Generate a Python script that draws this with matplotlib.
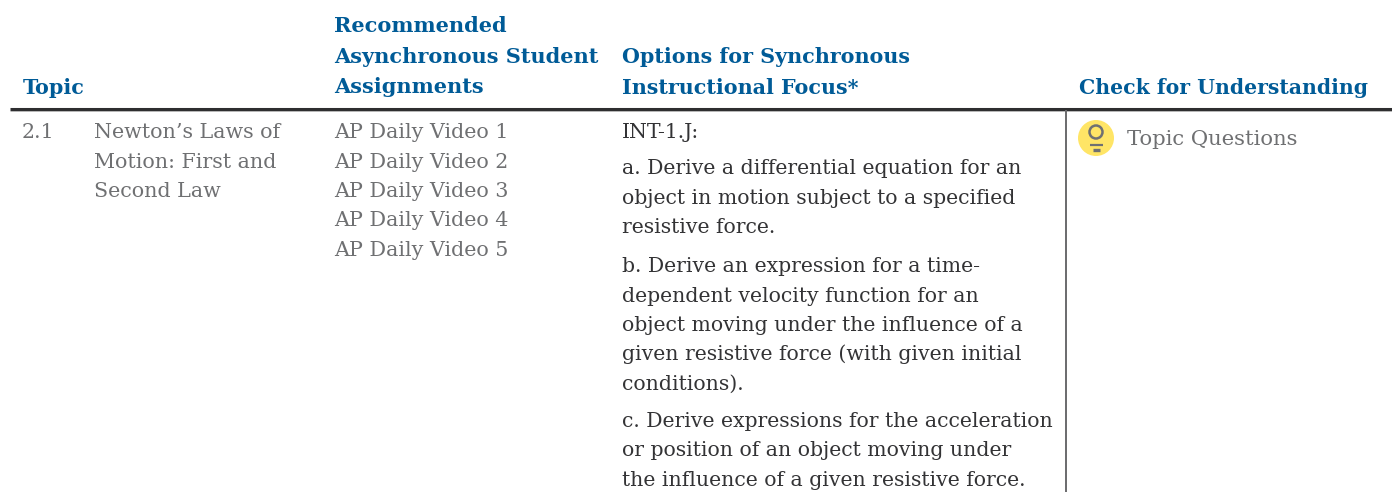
import matplotlib
matplotlib.use("Agg")
import matplotlib.pyplot as plt
from matplotlib.patches import Circle

# text of the table, one list per column
topic_head = ["Topic"]
assign_head = ["Recommended", "Asynchronous Student", "Assignments"]
focus_head = ["Options for Synchronous", "Instructional Focus*"]
check_head = ["Check for Understanding"]
topic_num = ["2.1"]
topic_name = ["Newton\u2019s Laws of", "Motion: First and", "Second Law"]
videos = ["AP Daily Video 1", "AP Daily Video 2", "AP Daily Video 3", "AP Daily Video 4", "AP Daily Video 5"]
focus_intro = ["INT-1.J:"]
focus_a = ["a. Derive a differential equation for an", "object in motion subject to a specified", "resistive force."]
focus_b = ["b. Derive an expression for a time-", "dependent velocity function for an",
           "object moving under the influence of a", "given resistive force (with given initial", "conditions)."]
focus_c = ["c. Derive expressions for the acceleration", "or position of an object moving under",
           "the influence of a given resistive force."]
check_item = ["Topic Questions"]

BLUE = "#005b97"
GRAY = "#6f7072"
DARK = "#333335"
SERIF = "DejaVu Serif"

fig = plt.figure(figsize=(13.92, 4.92), dpi=100)
ax = fig.add_axes([0, 0, 1, 1])
ax.set_xlim(0, 1392)
ax.set_ylim(492, 0)
ax.axis("off")

# draw a block of lines, first baseline at y
def block(x, y, lines, color, size, step=29.5, weight="normal"):
    for i, line in enumerate(lines):
        ax.text(x, y + i * step, line, color=color, fontsize=size, family=SERIF,
                weight=weight, va="baseline", ha="left")

hsize = 14.9
block(23, 94, topic_head, BLUE, hsize, weight="bold")
block(334, 32, assign_head, BLUE, 15.0, step=30.7, weight="bold")
block(622, 63, focus_head, BLUE, hsize, step=30.7, weight="bold")
block(1079, 94, check_head, BLUE, 14.65, weight="bold")

gsize = 14.9
fsize = 14.7
block(22, 138, topic_num, GRAY, gsize)
block(94, 138, topic_name, GRAY, gsize)
block(334, 138, videos, GRAY, gsize)
block(622, 138, focus_intro, DARK, fsize)
block(622, 174, focus_a, DARK, fsize)
block(622, 272, focus_b, DARK, fsize)
block(622, 427, focus_c, DARK, fsize)
block(1127, 145, check_item, GRAY, 15.2)

# rules
ax.plot([10, 1392], [109, 109], color="#2e2e30", lw=2.2, solid_capstyle="butt")
ax.plot([10, 1392], [111, 111], color="#b5b5b5", lw=0.7, solid_capstyle="butt")
ax.plot([1065.7, 1065.7], [110, 492], color="#6a6a6c", lw=1.4, solid_capstyle="butt")

# light bulb icon
ax.add_patch(Circle((1096, 138), 18, facecolor="#ffe566", edgecolor="none"))
ax.add_patch(Circle((1096, 132), 6.5, facecolor="none", edgecolor=GRAY, lw=1.8))
ax.plot([1090, 1103], [145, 145], color=GRAY, lw=1.6, solid_capstyle="butt")
ax.plot([1093, 1100], [150, 150], color=GRAY, lw=2.4, solid_capstyle="butt")

fig.savefig("out.png", dpi=100)
